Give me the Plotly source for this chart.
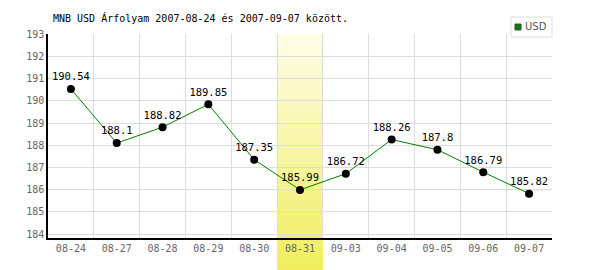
import plotly.graph_objects as go

dates = ["08-24", "08-27", "08-28", "08-29", "08-30", "08-31",
         "09-03", "09-04", "09-05", "09-06", "09-07"]
usd = [190.54, 188.1, 188.82, 189.85, 187.35, 185.99,
       186.72, 188.26, 187.8, 186.79, 185.82]
avg_line = 186.0
highlight = "08-31"
series_name = "USD"
y_ticks = [184, 185, 186, 187, 188, 189, 190, 191, 192, 193]

MONO = "DejaVu Sans Mono"
W, H = 600, 270
ML, MR, MT, MB = 48, 48, 34, 32
PW, PH = W - ML - MR, H - MT - MB


def px(x):
    return (x - ML) / PW


def py(y):
    return 1 - (y - MT) / PH


fig = go.Figure()

fig.add_trace(go.Scatter(
    x=dates, y=usd, mode="lines+markers+text",
    text=[f"{v:g}" for v in usd], textposition="top center",
    textfont=dict(family=MONO, size=10.5, color="#000"),
    line=dict(color="#008000", width=1),
    marker=dict(color="#000", size=8),
    showlegend=False, cliponaxis=False,
))

# gradient highlight band
hi = dates.index(highlight)
n = 40
y_bot, y_top = py(H), 1.0
c_top = (255, 253, 230)
c_bot = (240, 238, 96)
for k in range(n):
    t = k / (n - 1)
    yk = y_top - (y_top - y_bot) * k / n
    col = tuple(round(c_top[i] + (c_bot[i] - c_top[i]) * t) for i in range(3))
    fig.add_shape(type="rect", xref="x", yref="paper",
                  x0=hi - 0.5, x1=hi + 0.5, y0=y_bot, y1=yk,
                  fillcolor=f"rgb{col}", line=dict(width=0), layer="between")

fig.add_shape(type="line", xref="paper", yref="y", x0=0, x1=1,
              y0=avg_line, y1=avg_line,
              line=dict(color="#99dd99", width=1, dash="4px,2px"), layer="between")

# legend box (manual)
fig.add_shape(type="rect", xref="paper", yref="paper",
              x0=px(511), x1=px(552), y0=py(37), y1=py(17),
              fillcolor="white", line=dict(color="#dddddd", width=1), layer="above")
fig.add_shape(type="rect", xref="paper", yref="paper",
              x0=px(515), x1=px(521), y0=py(30), y1=py(24),
              fillcolor="#008000", line=dict(color="#444", width=1), layer="above")
fig.add_annotation(xref="paper", yref="paper", x=px(523), y=py(27),
                   xanchor="left", yanchor="middle", showarrow=False,
                   text=series_name,
                   font=dict(family="DejaVu Sans", size=10, color="#555"))

fig.update_layout(
    width=W, height=H,
    margin=dict(l=ML, r=MR, t=MT, b=MB),
    paper_bgcolor="white", plot_bgcolor="white",
    showlegend=False,
    title=dict(text="MNB USD Árfolyam 2007-08-24 és 2007-09-07 között.",
               x=53 / W, xanchor="left", xref="container",
               y=1 - 18 / H, yanchor="middle", yref="container",
               font=dict(family=MONO, size=10, color="#000")),
    font=dict(family=MONO),
)
fig.update_xaxes(type="category", range=[-0.5, len(dates) - 0.5],
                 tickson="boundaries", showgrid=True, gridcolor="#dddddd",
                 gridwidth=1, showline=True, linecolor="#000", linewidth=1.5,
                 ticks="", tickfont=dict(family=MONO, size=10, color="#666"))
fig.update_yaxes(range=[183.82, 193.02], tickvals=y_ticks,
                 showgrid=True, gridcolor="#dddddd", gridwidth=1,
                 showline=True, linecolor="#000", linewidth=1.5,
                 zeroline=False, ticks="",
                 tickfont=dict(family=MONO, size=10, color="#666"))

fig.write_html("out.html")
